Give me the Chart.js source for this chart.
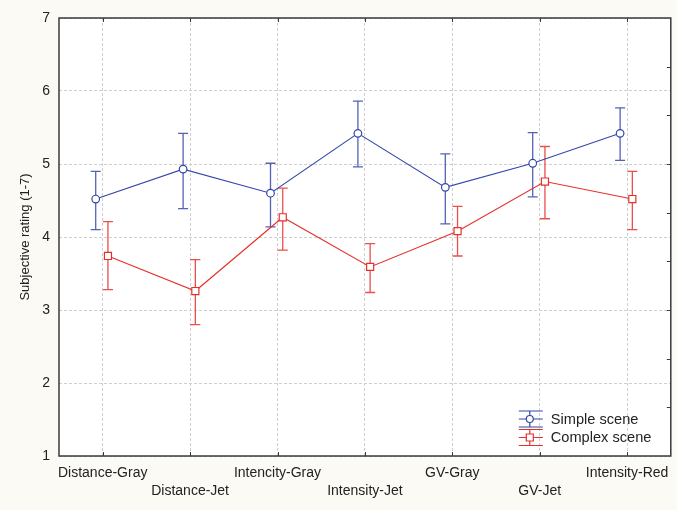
<!DOCTYPE html>
<html>
<head>
<meta charset="utf-8">
<script src="https://cdn.jsdelivr.net/npm/chart.js@4.4.0/dist/chart.umd.min.js"></script>
<style>
  html, body { margin: 0; padding: 0; background: #fbfaf5; }
  canvas { display: block; }
</style>
</head>
<body>
<canvas id="grafico" width="677" height="510"></canvas>
<script>
// ===================== DATA =====================
const categories = ["Distance-Gray", "Distance-Jet", "Intencity-Gray", "Intensity-Jet", "GV-Gray", "GV-Jet", "Intensity-Red"];
const seriesNames = ["Simple scene", "Complex scene"];

const simpleMean = [4.52, 4.93, 4.60, 5.42, 4.68, 5.01, 5.42];
const simpleLow  = [4.10, 4.39, 4.14, 4.96, 4.18, 4.55, 5.05];
const simpleHigh = [4.90, 5.42, 5.01, 5.86, 5.14, 5.43, 5.77];

const complexMean = [3.74, 3.26, 4.27, 3.59, 4.08, 4.76, 4.52];
const complexLow  = [3.28, 2.80, 3.82, 3.24, 3.74, 4.25, 4.10];
const complexHigh = [4.21, 3.69, 4.67, 3.91, 4.42, 5.24, 4.90];

const yTicks = [1, 2, 3, 4, 5, 6, 7];

// ===================== STYLE =====================
const FONT = "'Liberation Sans', Arial, sans-serif";
const BLUE = "#3446a9";
const RED = "#e5302b";
const TEXT = "#222222";

// error bars (drawn under the points)
const errorBars = {
  id: "errorBars",
  beforeDatasetsDraw(chart) {
    const { ctx, scales: { x, y } } = chart;
    chart.data.datasets.forEach((ds) => {
      ctx.save();
      ctx.strokeStyle = ds.borderColor;
      ctx.globalAlpha = 0.85;
      ctx.lineWidth = 1.3;
      ds.data.forEach((p, i) => {
        const px = x.getPixelForValue(p.x);
        const top = y.getPixelForValue(ds.errHigh[i]);
        const bot = y.getPixelForValue(ds.errLow[i]);
        ctx.beginPath();
        ctx.moveTo(px, top); ctx.lineTo(px, bot);
        ctx.moveTo(px - 5, top); ctx.lineTo(px + 5, top);
        ctx.moveTo(px - 5, bot); ctx.lineTo(px + 5, bot);
        ctx.stroke();
      });
      ctx.restore();
    });
  }
};

// box round the plot + inward ticks
const frame = {
  id: "frame",
  beforeDraw(chart) {
    const { ctx, chartArea: a } = chart;
    ctx.save();
    ctx.fillStyle = "#ffffff";
    ctx.fillRect(a.left, a.top, a.right - a.left, a.bottom - a.top);
    ctx.restore();
  },
  afterDraw(chart) {
    const { ctx, chartArea: a, scales: { x, y2 } } = chart;
    ctx.save();
    ctx.strokeStyle = "#3a3a3a";
    ctx.lineWidth = 1.5;
    ctx.strokeRect(a.left, a.top, a.right - a.left, a.bottom - a.top);
    ctx.lineWidth = 1;
    ctx.beginPath();
    categories.forEach((c, i) => {
      const px = Math.round(x.getPixelForValue(i)) + 0.5;
      ctx.moveTo(px, a.bottom); ctx.lineTo(px, a.bottom - 4);
      ctx.moveTo(px, a.top); ctx.lineTo(px, a.top + 4);
    });
    for (let k = 1; k < 9; k++) {
      const py = Math.round(y2.getPixelForValue(k)) + 0.5;
      ctx.moveTo(a.right, py); ctx.lineTo(a.right - 4, py);
    }
    ctx.stroke();
    ctx.restore();
  }
};

// legend inside the plot, bottom right
const legendBox = {
  id: "legendBox",
  afterDraw(chart) {
    const { ctx, chartArea: a } = chart;
    const x0 = a.right - 152;
    const rows = [
      { name: seriesNames[0], color: BLUE, cy: a.bottom - 37, shape: "circle" },
      { name: seriesNames[1], color: RED, cy: a.bottom - 18.5, shape: "rect" }
    ];
    ctx.save();
    rows.forEach((r) => {
      ctx.strokeStyle = r.color;
      ctx.lineWidth = 1.2;
      ctx.beginPath();
      [-8, 0, 8].forEach((d) => {
        ctx.moveTo(x0, r.cy + d); ctx.lineTo(x0 + 24, r.cy + d);
      });
      ctx.moveTo(x0 + 11, r.cy - 8); ctx.lineTo(x0 + 11, r.cy + 8);
      ctx.stroke();
      ctx.fillStyle = "#ffffff";
      ctx.beginPath();
      if (r.shape === "circle") ctx.arc(x0 + 11, r.cy, 3.5, 0, Math.PI * 2);
      else ctx.rect(x0 + 7.5, r.cy - 3.5, 7, 7);
      ctx.fill();
      ctx.stroke();
      ctx.fillStyle = TEXT;
      ctx.font = "14.6px " + FONT;
      ctx.textBaseline = "middle";
      ctx.fillText(r.name, x0 + 32, r.cy + 0.5);
    });
    ctx.restore();
  }
};

const ctx = document.getElementById("grafico");

new Chart(ctx, {
  type: "line",
  data: {
    datasets: [
      {
        label: seriesNames[0],
        data: simpleMean.map((v, i) => ({ x: i - 0.08, y: v })),
        errLow: simpleLow,
        errHigh: simpleHigh,
        borderColor: BLUE,
        borderWidth: 1.1,
        pointStyle: "circle",
        pointRadius: 3.8,
        pointBorderWidth: 1.2,
        pointBackgroundColor: "#ffffff",
        pointBorderColor: BLUE,
        tension: 0
      },
      {
        label: seriesNames[1],
        data: complexMean.map((v, i) => ({ x: i + 0.06, y: v })),
        errLow: complexLow,
        errHigh: complexHigh,
        borderColor: RED,
        borderWidth: 1.1,
        pointStyle: "rect",
        pointRadius: 5,
        pointBorderWidth: 1.2,
        pointBackgroundColor: "#ffffff",
        pointBorderColor: RED,
        tension: 0
      }
    ]
  },
  options: {
    responsive: false,
    animation: false,
    layout: { padding: { top: 18, right: 5, left: 0, bottom: 0 } },
    plugins: { legend: { display: false }, tooltip: { enabled: false } },
    scales: {
      x: {
        type: "linear",
        min: -0.5,
        max: 6.5,
        afterBuildTicks: (s) => { s.ticks = categories.map((c, i) => ({ value: i })); },
        afterFit: (s) => { s.height = 54; },
        ticks: {
          autoSkip: false,
          maxRotation: 0,
          padding: 8,
          color: TEXT,
          font: { family: FONT, size: 14, lineHeight: 1.3 },
          callback: (v) => {
            const i = Math.round(v);
            return i % 2 ? ["", categories[i]] : categories[i];
          }
        },
        grid: { color: "#cfcfcf", lineWidth: 1, drawTicks: false },
        border: { display: false, dash: [3, 2] }
      },
      y: {
        min: 1,
        max: 7,
        afterBuildTicks: (s) => { s.ticks = yTicks.map((v) => ({ value: v })); },
        afterFit: (s) => { s.width = 59; },
        ticks: {
          padding: 9,
          color: TEXT,
          font: { family: FONT, size: 14 }
        },
        title: {
          display: true,
          text: "Subjective rating (1-7)",
          color: TEXT,
          font: { family: FONT, size: 13 },
          padding: { top: 18, bottom: 0 }
        },
        grid: { color: "#cfcfcf", lineWidth: 1, drawTicks: false },
        border: { display: false, dash: [3, 2] }
      },
      y2: {
        position: "right",
        min: 0,
        max: 9,
        afterFit: (s) => { s.width = 0; },
        ticks: { display: false },
        grid: { display: false, drawTicks: false },
        border: { display: false }
      }
    }
  },
  plugins: [frame, errorBars, legendBox]
});
</script>
</body>
</html>
